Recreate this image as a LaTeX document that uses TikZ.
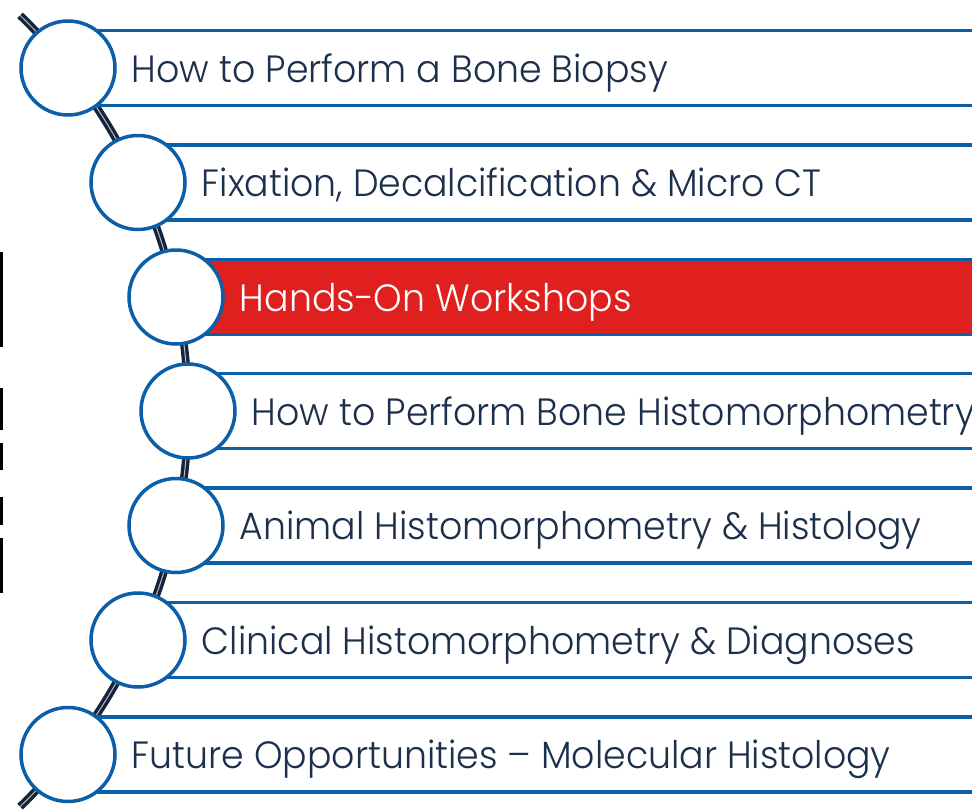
\documentclass[tikz,border=0pt]{standalone}
\usepackage{fontspec}
\setmainfont{Poppins}[UprightFont={* Light},FakeStretch=0.955]
\definecolor{rimblue}{HTML}{0B5EA8}
\definecolor{inkblue}{HTML}{1C2F4C}
\definecolor{hotred}{HTML}{E0201F}
\definecolor{spinenavy}{HTML}{15243A}
\tikzset{
  spine/.style={draw=spinenavy,line width=3.4pt,double=white!70!spinenavy,double distance=1pt},
  bandbox/.style={draw=rimblue,line width=3.5pt,fill=white,minimum height=75pt,
    inner sep=0pt,anchor=west},
  hotband/.style={bandbox,fill=hotred},
  bubble/.style={circle,draw=rimblue,line width=3.5pt,fill=white,minimum size=94pt,inner sep=0pt},
  itemtext/.style={text=inkblue,font=\fontsize{38}{40}\selectfont,anchor=base west,inner sep=0pt},
  hottext/.style={itemtext,text=white},
  edgebar/.style={fill=black}
}
\begin{document}
\begin{tikzpicture}[x=1pt,y=-1pt]
\useasboundingbox (0,0) rectangle (972,811);
\clip (0,0) rectangle (972,811);
% stray bars at the left edge
\fill[edgebar] (0,252) rectangle (3,347);
\fill[edgebar] (0,388) rectangle (3,430);
\fill[edgebar] (0,443) rectangle (3,470);
\fill[edgebar] (0,497) rectangle (3,525);
\fill[edgebar] (0,538) rectangle (3,593);
% the backbone arc
\coordinate (hub) at (-362,411);
\draw[spine] ([shift={(46:550)}]hub.center) arc[start angle=46,end angle=-46,radius=550];
% bands, bubbles and labels
\foreach \n/\x/\y/\s/\t in {1/68/68/itemtext/How to Perform a Bone Biopsy,
    2/138/182.5/itemtext/{Fixation, Decalcification \& Micro CT},
    3/176/297/hottext/Hands-On Workshops,
    4/188/411/itemtext/How to Perform Bone Histomorphometry,
    5/176/525.5/itemtext/Animal Histomorphometry \& Histology,
    6/138/640/itemtext/Clinical Histomorphometry \& Diagnoses,
    7/68/754.5/itemtext/Future Opportunities -- Molecular Histology}{
  \ifnum\n=3
    \node[hotband,minimum width={1010-\x}] (band\n) at (\x,\y) {};
  \else
    \node[bandbox,minimum width={1010-\x}] (band\n) at (\x,\y) {};
  \fi
  \node[bubble] (dot\n) at (\x,\y) {};
  \node[\s] (label\n) at ([xshift=15pt,yshift=-14pt]dot\n.east) {\t};
}
\end{tikzpicture}
\end{document}
